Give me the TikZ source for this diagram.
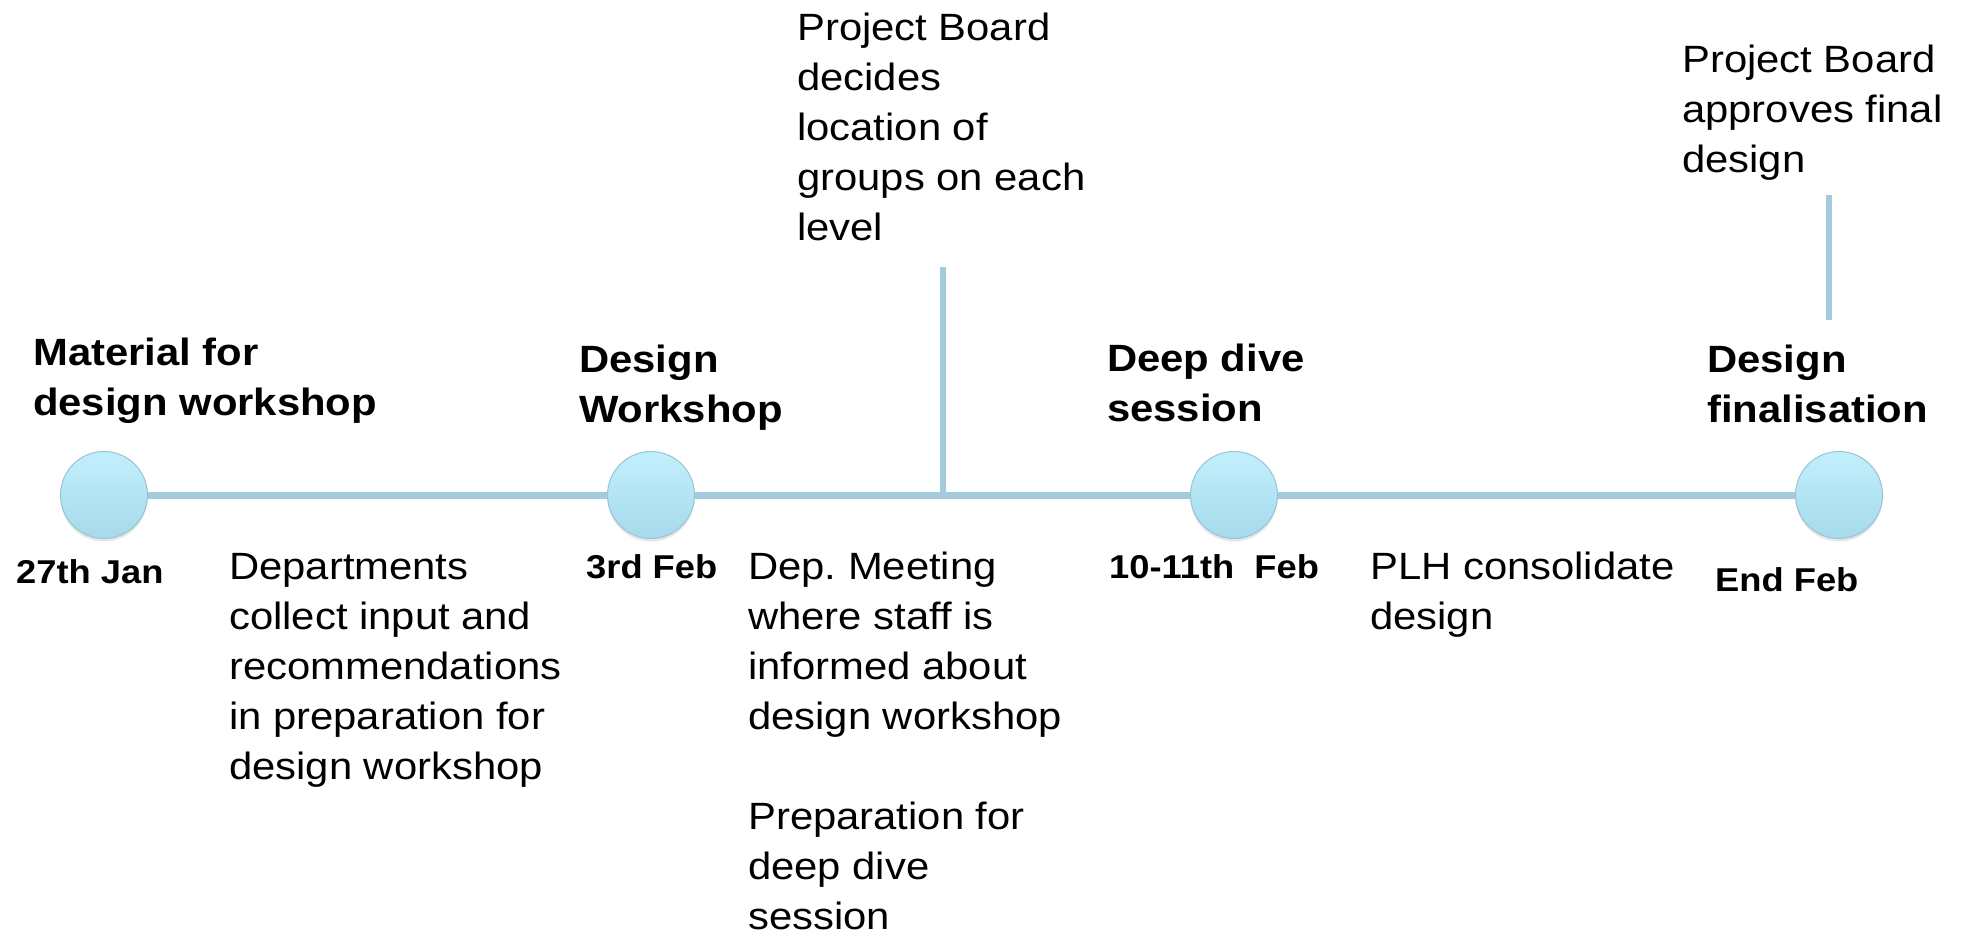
\documentclass[tikz, border = 0pt]{standalone}
\usepackage{fontspec}
\setmainfont{Liberation Sans}[FakeStretch = 1.1]
\usetikzlibrary{shadows}
\frenchspacing

\definecolor{lineblue}{HTML}{A3CBDC}
\definecolor{dotedge}{HTML}{97C4D6}
\definecolor{dottop}{HTML}{C2EFFC}
\definecolor{dotbottom}{HTML}{A6DAEC}

\begin{document}
\begin{tikzpicture}[x = 1pt, y = -1pt,
	milestone/.style = {circle, minimum size = 87pt, inner sep = 0pt, draw = dotedge, line width = 1pt, top color = dottop, bottom color = dotbottom, drop shadow = {opacity = 0.2, shadow xshift = 0pt, shadow yshift = -3pt}},
	track/.style = {lineblue, line width = 7pt},
	heading/.style = {anchor = base west, inner sep = 0pt, align = left, font = \fontsize{38}{50}\selectfont\bfseries},
	date/.style = {anchor = base west, inner sep = 0pt, font = \fontsize{33}{40}\selectfont\bfseries},
	note/.style = {anchor = base west, inner sep = 0pt, align = left, font = \fontsize{38}{50}\selectfont}]

	% Frame
	
	\useasboundingbox (0, 0) rectangle (1964, 938);
	
	% Milestones
	
	\node [milestone] (jan) at (104, 495) {};
	\node [milestone] (workshop) at (651, 495) {};
	\node [milestone] (deepdive) at (1234, 495) {};
	\node [milestone] (final) at (1839, 495) {};
	
	% Timeline
	
	\coordinate (decide) at (943, 495);
	\coordinate (decidetop) at (943, 267);
	\coordinate (approvetop) at (1829, 195);
	\coordinate (approvebottom) at (1829, 320);
	
	\draw [track] (jan) -- (workshop) -- (deepdive) -- (final);
	\draw [track, line width = 6pt] (decidetop) -- (decide);
	\draw [track, line width = 6pt] (approvetop) -- (approvebottom);
	
	% Headings (placed at the baseline of their last line)
	
	\node [heading] (material) at (33, 415) {Material for\\design workshop};
	\node [heading] (workshophead) at (579, 422) {Design\\Workshop};
	\node [heading] (deepdivehead) at (1107, 421) {Deep dive\\session};
	\node [heading] (finalhead) at (1707, 422) {Design\\finalisation};
	
	% Dates
	
	\node [date] (jandate) at (16, 583) {27th Jan};
	\node [date] (workshopdate) at (586, 578) {3rd Feb};
	\node [date] (deepdivedate) at (1109, 578) {10-11th~~Feb};
	\node [date] (finaldate) at (1715, 591) {End Feb};
	
	% Notes
	
	\node [note] (departments) at (229, 779) {Departments\\collect input and\\recommendations\\in preparation for\\design workshop};
	\node [note] (meeting) at (748, 929) {Dep. Meeting\\where staff is\\informed about\\design workshop\\[50pt]Preparation for\\deep dive\\session};
	\node [note] (consolidate) at (1370, 629) {PLH consolidate\\design};
	\node [note] (decides) at (797, 240) {Project Board\\decides\\location of\\groups on each\\level};
	\node [note] (approves) at (1682, 172) {Project Board\\approves final\\design};

\end{tikzpicture}
\end{document}
